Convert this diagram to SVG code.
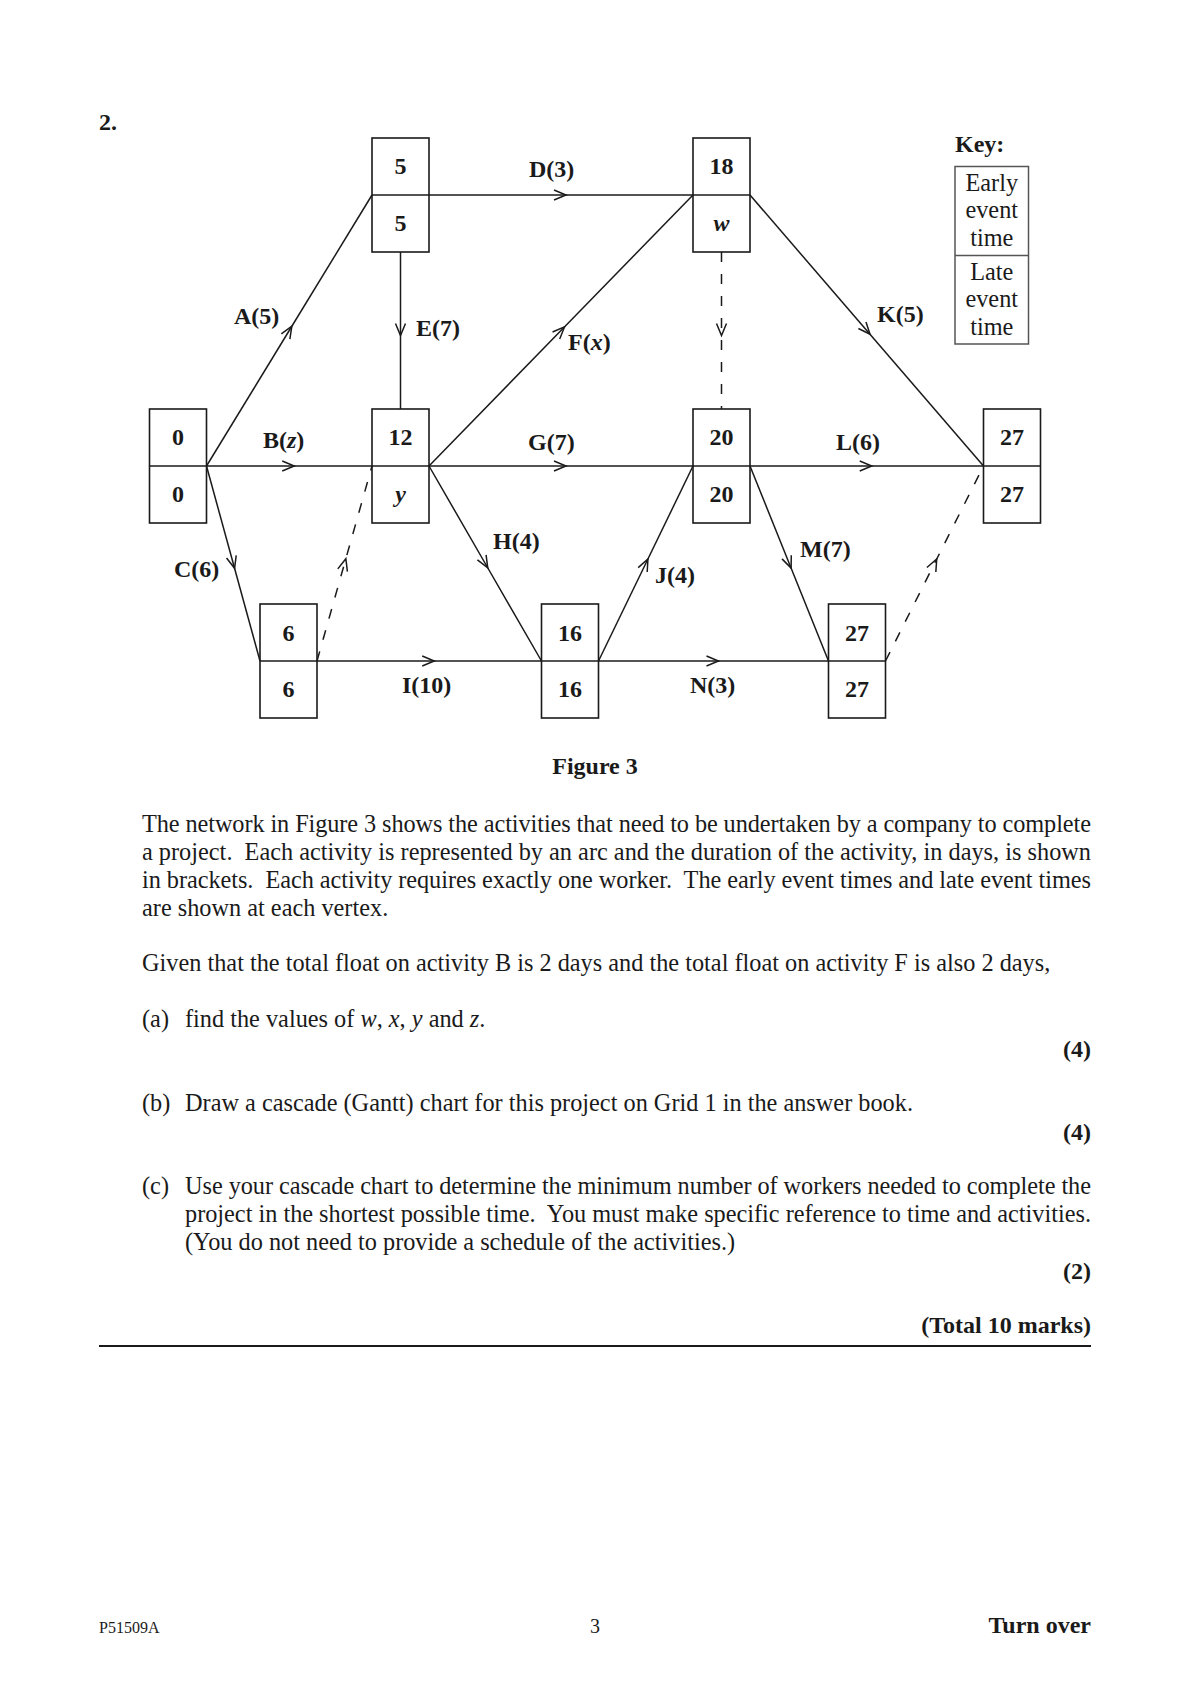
<svg xmlns="http://www.w3.org/2000/svg" width="1190" height="1684" viewBox="0 0 1190 1684">
<defs>
<marker id="arr" markerUnits="userSpaceOnUse" markerWidth="30" markerHeight="30" viewBox="-20 -10 30 20" refX="-5" refY="0" orient="auto" overflow="visible">
<path d="M -12,-5 L 0,0 L -12,5" fill="none" stroke="#1a1a1a" stroke-width="1.5" stroke-dasharray="none"/>
</marker>
</defs>
<style>
text{font-family:"Liberation Serif","Times New Roman",serif;fill:#1a1a1a;}
.b{font-weight:bold;font-size:24px;}
.r{font-size:24.3px;}
.c{text-anchor:middle;}
.e{text-anchor:end;}
.box{fill:none;stroke:#1a1a1a;stroke-width:1.6;}
.key{fill:none;stroke:#555;stroke-width:1.5;}
.arc{fill:none;stroke:#1a1a1a;stroke-width:1.5;marker-mid:url(#arr);}
.dash{stroke-dasharray:10 12;}
</style>
<rect width="1190" height="1684" fill="#fff"/>
<text x="99" y="130" class="b">2.</text>

<g id="connectors">
<path class="arc" d="M206.5,466 L289.25,330.5 L372,195"/>
<path class="arc" d="M206.5,466 L289.25,466 L372,466"/>
<path class="arc" d="M206.5,466 L233.25,563.5 L260,661"/>
<path class="arc" d="M429,195 L561,195 L693,195"/>
<path class="arc" d="M400.5,252 L400.5,330.5 L400.5,409"/>
<path class="arc" d="M429,466 L561,330.5 L693,195"/>
<path class="arc" d="M429,466 L561,466 L693,466"/>
<path class="arc" d="M429,466 L485.25,563.5 L541.5,661"/>
<path class="arc" d="M317,661 L429.25,661 L541.5,661"/>
<path class="arc dash" d="M317,661 L344.5,563.5 L372,466"/>
<path class="arc" d="M598.5,661 L645.75,563.5 L693,466"/>
<path class="arc" d="M598.5,661 L713.5,661 L828.5,661"/>
<path class="arc dash" d="M721.5,252 L721.5,330.5 L721.5,409"/>
<path class="arc" d="M750,195 L866.75,330.5 L983.5,466"/>
<path class="arc" d="M750,466 L866.75,466 L983.5,466"/>
<path class="arc" d="M750,466 L789.25,563.5 L828.5,661"/>
<path class="arc dash" d="M885.5,661 L934.5,563.5 L983.5,466"/>
</g>

<g id="arc-labels" class="b">
<text x="234" y="324">A(5)</text>
<text x="416" y="336">E(7)</text>
<text x="529" y="177">D(3)</text>
<text x="568" y="350">F(<tspan font-style="italic">x</tspan>)</text>
<text x="877" y="322">K(5)</text>
<text x="263" y="448">B(<tspan font-style="italic">z</tspan>)</text>
<text x="528" y="450">G(7)</text>
<text x="836" y="450">L(6)</text>
<text x="174" y="577">C(6)</text>
<text x="493" y="549">H(4)</text>
<text x="800" y="557">M(7)</text>
<text x="655" y="583">J(4)</text>
<text x="402" y="693">I(10)</text>
<text x="690" y="693">N(3)</text>
</g>

<g id="node-5">
<rect class="box" x="372" y="138" width="57" height="114"/><line class="box" x1="372" y1="195" x2="429" y2="195"/>
<text x="400.5" y="174" class="b c">5</text><text x="400.5" y="231" class="b c">5</text>
</g>
<g id="node-18">
<rect class="box" x="693" y="138" width="57" height="114"/><line class="box" x1="693" y1="195" x2="750" y2="195"/>
<text x="721.5" y="174" class="b c">18</text><text x="721.5" y="231" class="b c" font-style="italic">w</text>
</g>
<g id="node-0">
<rect class="box" x="149.5" y="409" width="57" height="114"/><line class="box" x1="149.5" y1="466" x2="206.5" y2="466"/>
<text x="178" y="445" class="b c">0</text><text x="178" y="502" class="b c">0</text>
</g>
<g id="node-12">
<rect class="box" x="372" y="409" width="57" height="114"/><line class="box" x1="372" y1="466" x2="429" y2="466"/>
<text x="400.5" y="445" class="b c">12</text><text x="400.5" y="502" class="b c" font-style="italic">y</text>
</g>
<g id="node-20">
<rect class="box" x="693" y="409" width="57" height="114"/><line class="box" x1="693" y1="466" x2="750" y2="466"/>
<text x="721.5" y="445" class="b c">20</text><text x="721.5" y="502" class="b c">20</text>
</g>
<g id="node-27-end">
<rect class="box" x="983.5" y="409" width="57" height="114"/><line class="box" x1="983.5" y1="466" x2="1040.5" y2="466"/>
<text x="1012" y="445" class="b c">27</text><text x="1012" y="502" class="b c">27</text>
</g>
<g id="node-6">
<rect class="box" x="260" y="604" width="57" height="114"/><line class="box" x1="260" y1="661" x2="317" y2="661"/>
<text x="288.5" y="641" class="b c">6</text><text x="288.5" y="697" class="b c">6</text>
</g>
<g id="node-16">
<rect class="box" x="541.5" y="604" width="57" height="114"/><line class="box" x1="541.5" y1="661" x2="598.5" y2="661"/>
<text x="570" y="641" class="b c">16</text><text x="570" y="697" class="b c">16</text>
</g>
<g id="node-27">
<rect class="box" x="828.5" y="604" width="57" height="114"/><line class="box" x1="828.5" y1="661" x2="885.5" y2="661"/>
<text x="857" y="641" class="b c">27</text><text x="857" y="697" class="b c">27</text>
</g>

<g id="key">
<text x="955" y="152" class="b">Key:</text>
<rect class="key" x="955" y="166.5" width="73.5" height="177.5"/><line class="key" x1="955" y1="255.5" x2="1028.5" y2="255.5"/>
<text x="991.75" y="191" class="r c">Early</text>
<text x="991.75" y="218" class="r c">event</text>
<text x="991.75" y="246" class="r c">time</text>
<text x="991.75" y="280" class="r c">Late</text>
<text x="991.75" y="307" class="r c">event</text>
<text x="991.75" y="335" class="r c">time</text>
</g>

<text x="595" y="774" class="b c">Figure 3</text>

<g id="question" class="r">
<text x="142" y="832" textLength="949" lengthAdjust="spacing">The network in Figure 3 shows the activities that need to be undertaken by a company to complete</text>
<text x="142" y="860" textLength="949" lengthAdjust="spacing" xml:space="preserve">a project.  Each activity is represented by an arc and the duration of the activity, in days, is shown</text>
<text x="142" y="888" textLength="949" lengthAdjust="spacing" xml:space="preserve">in brackets.  Each activity requires exactly one worker.  The early event times and late event times</text>
<text x="142" y="916">are shown at each vertex.</text>
<text x="142" y="971">Given that the total float on activity B is 2 days and the total float on activity F is also 2 days,</text>
<text x="142" y="1027">(a)</text>
<text x="185" y="1027">find the values of <tspan font-style="italic">w</tspan>, <tspan font-style="italic">x</tspan>, <tspan font-style="italic">y</tspan> and <tspan font-style="italic">z</tspan>.</text>
<text x="1091" y="1057" class="b e">(4)</text>
<text x="142" y="1111">(b)</text>
<text x="185" y="1111">Draw a cascade (Gantt) chart for this project on Grid 1 in the answer book.</text>
<text x="1091" y="1140" class="b e">(4)</text>
<text x="142" y="1194">(c)</text>
<text x="185" y="1194" textLength="906" lengthAdjust="spacing">Use your cascade chart to determine the minimum number of workers needed to complete the</text>
<text x="185" y="1222" textLength="906" lengthAdjust="spacing" xml:space="preserve">project in the shortest possible time.  You must make specific reference to time and activities.</text>
<text x="185" y="1250">(You do not need to provide a schedule of the activities.)</text>
<text x="1091" y="1279" class="b e">(2)</text>
<text x="1091" y="1333" class="b e">(Total 10 marks)</text>
</g>
<line x1="99" y1="1346" x2="1091" y2="1346" stroke="#1a1a1a" stroke-width="2"/>

<g id="footer">
<text x="99" y="1633" font-size="16">P51509A</text>
<text x="595" y="1633" font-size="20" class="c">3</text>
<text x="1091" y="1633" class="b e">Turn over</text>
</g>
</svg>
